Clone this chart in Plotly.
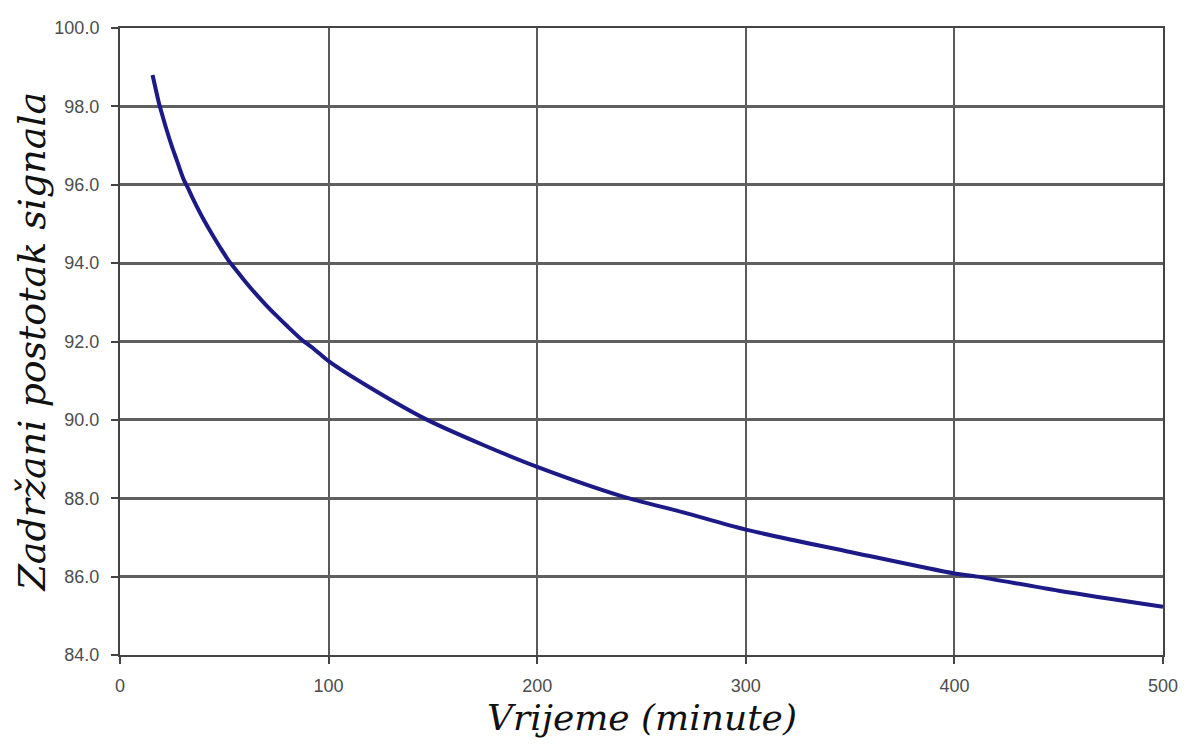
import plotly.graph_objects as go

# Data
time_min = [15.6, 17, 18.5, 20, 22, 25, 27, 30.4, 33, 35, 38, 40, 45, 48, 52, 56, 60,
            65, 70, 75, 80, 87.3, 93, 100, 120, 147.3, 175, 200, 240, 270, 300, 350,
            400, 411, 450, 500]
signal_pct = [98.80, 98.47, 98.12, 97.83, 97.46, 96.96, 96.66, 96.15, 95.87, 95.64,
              95.32, 95.12, 94.66, 94.40, 94.07, 93.80, 93.53, 93.22, 92.93, 92.66,
              92.40, 92.04, 91.81, 91.50, 90.82, 90.0, 89.34, 88.80, 88.06, 87.64,
              87.20, 86.63, 86.08, 86.0, 85.64, 85.23]

x_ticks = [0, 100, 200, 300, 400, 500]
y_ticks = [84.0, 86.0, 88.0, 90.0, 92.0, 94.0, 96.0, 98.0, 100.0]

fig = go.Figure()
fig.add_trace(go.Scatter(
    x=time_min, y=signal_pct, mode="lines",
    line=dict(color="#1c1a86", width=4, shape="spline", smoothing=0.8),
    showlegend=False, hoverinfo="skip",
))

title_font = "DejaVu Serif, Liberation Serif, serif"

fig.update_layout(
    width=1186, height=745,
    margin=dict(l=120, r=23, t=28, b=90),
    paper_bgcolor="white", plot_bgcolor="white",
    font=dict(family="Liberation Sans, Arial, sans-serif", color="#4d4d4d", size=18),
    annotations=[
        dict(text="Vrijeme (minute)", xref="paper", yref="paper",
             x=0.5, y=-0.099, xanchor="center", yanchor="middle",
             showarrow=False,
             font=dict(family=title_font, size=36, color="#111111", style="italic")),
        dict(text="Zadržani postotak signala", xref="paper", yref="paper",
             x=-0.0853, y=0.5, xanchor="center", yanchor="middle",
             textangle=-90, showarrow=False,
             font=dict(family=title_font, size=38, color="#111111", style="italic")),
    ],
)

fig.update_xaxes(
    range=[0, 500], tickvals=x_ticks, ticktext=[str(v) for v in x_ticks],
    automargin=False,
    showgrid=True, gridcolor="#5a5a5a", gridwidth=2,
    showline=True, linecolor="#444444", linewidth=2, mirror=True,
    ticks="outside", ticklen=7, tickcolor="#444444", tickwidth=2,
    ticklabelstandoff=6,
    zeroline=False,
)
fig.update_yaxes(
    range=[84, 100], tickvals=y_ticks, ticktext=[f"{v:.1f}" for v in y_ticks],
    automargin=False,
    showgrid=True, gridcolor="#5f5f5f", gridwidth=2.5,
    showline=True, linecolor="#444444", linewidth=2, mirror=True,
    ticks="outside", ticklen=7, tickcolor="#444444", tickwidth=2,
    ticklabelstandoff=8,
    zeroline=False,
)

fig.write_html("out.html", config={"displayModeBar": False},
               post_script="document.body.style.margin='0';")
